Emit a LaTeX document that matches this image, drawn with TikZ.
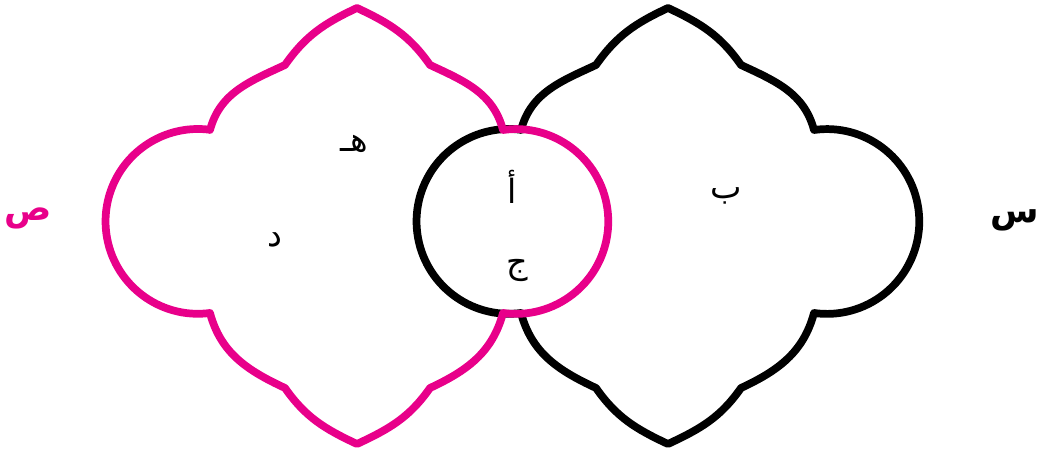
\documentclass[tikz,border=0pt]{standalone}
\usepackage{fontspec}
\usetikzlibrary{positioning}
\newfontfamily\arabicfont[Script=Arabic]{DejaVu Sans}
\TeXXeTstate=1
\definecolor{setpink}{RGB}{232,0,138}

\tikzset{
  % one lobed set: four lobes round its centre
  dome/.pic={
    \draw[pic actions] (-147,91.5) to[out=75,in=205] (-72,156.5)
      to[out=55,in=205] (0,213.5)
      to[out=-25,in=125] (73,156.5)
      to[out=-25,in=105] (146,91.5)
      arc[start angle=98,end angle=-98,radius=92.4]
      to[out=-105,in=25] (73,-166.5)
      to[out=-125,in=25] (0,-222.5)
      to[out=155,in=-55] (-72,-166.5)
      to[out=155,in=-75] (-147,-91.5)
      arc[start angle=-82.5,end angle=-277.5,radius=92.4] -- cycle;
  },
  setline/.style={line width=4.4pt, line join=round},
  letter/.style={font=\arabicfont\fontsize{19}{22}\selectfont, inner sep=0pt},
  setname/.style={font=\arabicfont\bfseries\fontsize{20}{24}\selectfont, inner sep=0pt}
}

\begin{document}
\begin{tikzpicture}[x=0.02cm, y=0.02cm]
  \useasboundingbox (0,0) rectangle (1041,455);
  % the two sets, black first so the pink lies on top
  \pic[draw=black, setline] (setS) at (668,233.5) {dome};
  \pic[draw=setpink, setline] (setSad) at (357,233.5) {dome};
  % set names
  \node[setname, text=setpink] (nameSad) at (28,237) {\beginR ص\endR};
  \node[setname] (nameS) at (1015,235) {\beginR س\endR};
  % elements
  \node[letter] (elHe) at (354,311) {\beginR هـ\endR};
  \node[letter] (elDal) at (275,215) {\beginR د\endR};
  \node[letter] (elAlif) at (512,268) {\beginR أ\endR};
  \node[letter] (elJim) at (517,185) {\beginR ج\endR};
  \node[letter] (elBa) at (726,259) {\beginR ب\endR};
\end{tikzpicture}
\end{document}
